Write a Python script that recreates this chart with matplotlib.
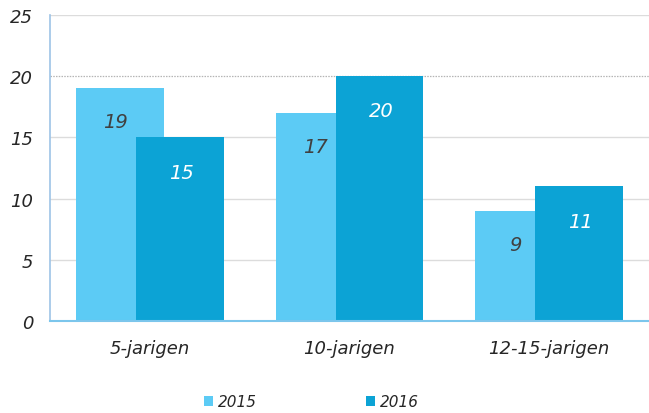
import matplotlib
matplotlib.use("Agg")
import matplotlib.pyplot as plt
import numpy as np

categories = ["5-jarigen", "10-jarigen", "12-15-jarigen"]
series_names = ["2015", "2016"]
values_2015 = [19, 17, 9]
values_2016 = [15, 20, 11]
y_ticks = [0, 5, 10, 15, 20, 25]

c2015 = "#5CCBF5"
c2016 = "#0CA3D5"

plt.rcParams['font.family'] = ['DejaVu Sans']

W, H = 649, 414
fig = plt.figure(figsize=(W / 100, H / 100), dpi=100)
ax = fig.add_axes([50 / W, 1 - 322 / H, (649 - 50) / W, (322 - 16) / H])

x = np.arange(len(categories))
width = 0.44
off = 0.15
b1 = ax.bar(x - off, values_2015, width, color=c2015, zorder=3, label=series_names[0])
b2 = ax.bar(x + off, values_2016, width, color=c2016, zorder=4, label=series_names[1])

for xi, v in zip(x - off, values_2015):
    ax.annotate(str(v), (xi, v), xytext=(-3, -24), textcoords="offset points",
                ha="center", va="center", fontsize=14, style="italic",
                color="#404040", zorder=5)
for xi, v in zip(x + off, values_2016):
    ax.annotate(str(v), (xi, v), xytext=(1, -25), textcoords="offset points",
                ha="center", va="center", fontsize=14, style="italic",
                color="white", zorder=5)

ax.set_xlim(-0.5, 2.5)
ax.set_ylim(0, 25)
ax.set_yticks(y_ticks)
ax.set_yticklabels([str(t) for t in y_ticks], fontsize=13, style="italic", color="#262626")
ax.set_xticks(x)
ax.set_xticklabels(categories, fontsize=13, style="italic", color="#262626")
ax.tick_params(axis="both", length=0)
ax.tick_params(axis="y", pad=12)
ax.tick_params(axis="x", pad=13)

for t in y_ticks[1:]:
    if t == 20:
        ax.axhline(t, color="#B5B5B5", lw=0.9, ls=(0, (1.2, 1.0)), zorder=1)
    else:
        ax.axhline(t, color="#DCDCDC", lw=1.0, zorder=1)

for s in ["top", "right"]:
    ax.spines[s].set_visible(False)
ax.spines["left"].set_color("#9DC3E6")
ax.spines["bottom"].set_color("#7CC6EC")
ax.spines["left"].set_linewidth(1.2)
ax.spines["bottom"].set_linewidth(1.5)
ax.spines["bottom"].set_zorder(6)

leg = fig.legend(handles=[b1, b2], labels=series_names, loc="center",
                 bbox_to_anchor=(311.5 / W, 1 - 403 / H), ncol=2, frameon=False,
                 prop={"size": 11, "style": "italic"}, handlelength=0.6,
                 handleheight=0.6, handletextpad=0.35, columnspacing=7.1)
for t in leg.get_texts():
    t.set_color("#262626")

fig.savefig("out.png", dpi=100)
